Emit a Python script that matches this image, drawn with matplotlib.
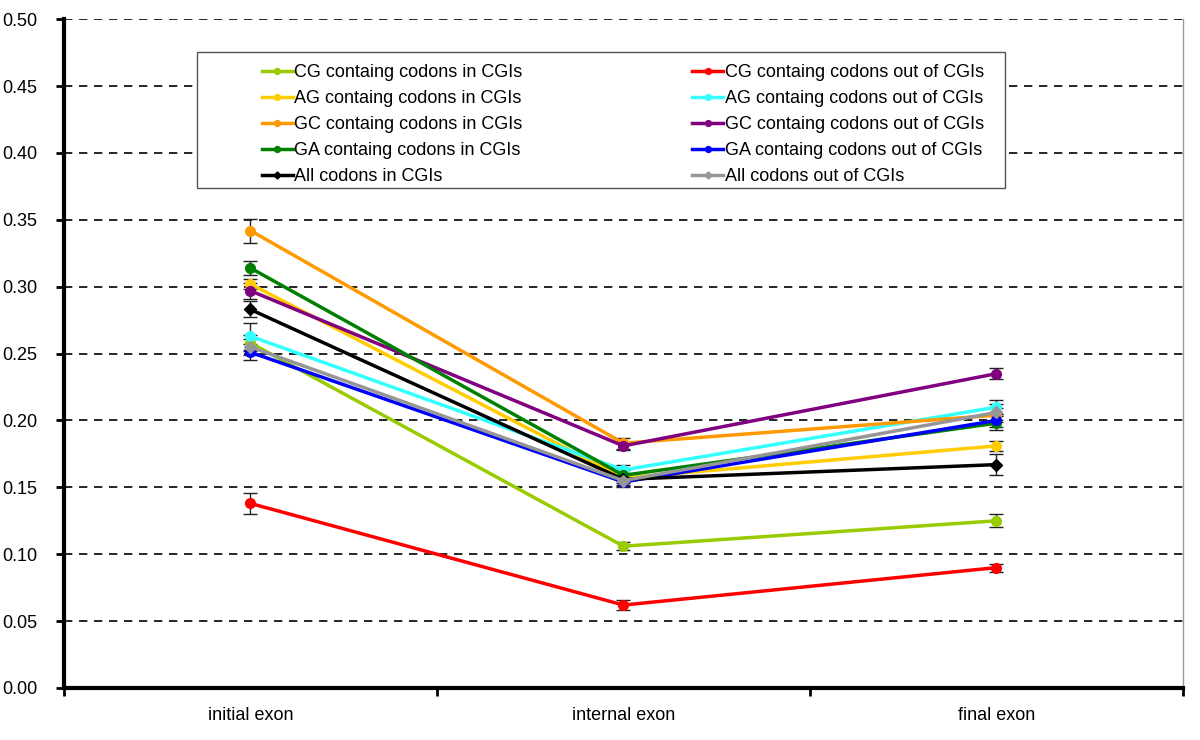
import numpy as np
import matplotlib.pyplot as plt
from matplotlib.patches import Rectangle

plt.rcParams['font.family'] = ['Liberation Sans', 'DejaVu Sans']

categories = ["initial exon", "internal exon", "final exon"]

labels = [
    "CG containg codons in CGIs", "CG containg codons out of CGIs",
    "AG containg codons in CGIs", "AG containg codons out of CGIs",
    "GC containg codons in CGIs", "GC containg codons out of CGIs",
    "GA containg codons in CGIs", "GA containg codons out of CGIs",
    "All codons in CGIs", "All codons out of CGIs",
]
colors = ["#99cc00", "#ff0000", "#ffcc00", "#33ffff", "#ff9900",
          "#800080", "#008000", "#0000ff", "#000000", "#969696"]
markers = ["o", "o", "o", "o", "o", "o", "o", "o", "D", "D"]

cg_in = [0.258, 0.106, 0.125]
cg_out = [0.138, 0.062, 0.090]
ag_in = [0.302, 0.157, 0.181]
ag_out = [0.263, 0.163, 0.210]
gc_in = [0.342, 0.183, 0.204]
gc_out = [0.297, 0.181, 0.235]
ga_in = [0.314, 0.159, 0.198]
ga_out = [0.251, 0.154, 0.200]
all_in = [0.283, 0.156, 0.167]
all_out = [0.255, 0.155, 0.206]

cg_in_err = [0.006, 0.003, 0.005]
cg_out_err = [0.008, 0.004, 0.003]
ag_in_err = [0.004, 0.004, 0.004]
ag_out_err = [0.010, 0.004, 0.005]
gc_in_err = [0.009, 0.004, 0.005]
gc_out_err = [0.006, 0.003, 0.004]
ga_in_err = [0.005, 0.004, 0.005]
ga_out_err = [0.006, 0.004, 0.005]
all_in_err = [0.006, 0.004, 0.008]
all_out_err = [0.006, 0.004, 0.006]

series = [cg_in, cg_out, ag_in, ag_out, gc_in, gc_out, ga_in, ga_out, all_in, all_out]
errors = [cg_in_err, cg_out_err, ag_in_err, ag_out_err, gc_in_err, gc_out_err,
          ga_in_err, ga_out_err, all_in_err, all_out_err]

fig = plt.figure(figsize=(12, 7.4), dpi=100)
ax = fig.add_axes([0.0533, 0.0703, 0.9325, 0.9037])

x = np.arange(len(categories))
handles = []
for vals, err, col, mk, lab in zip(series, errors, colors, markers, labels):
    ax.errorbar(x, vals, yerr=err, fmt="none", ecolor="#222222",
                elinewidth=1, capsize=5, capthick=1, zorder=2)
    h, = ax.plot(x, vals, color=col, marker=mk, markersize=7 if mk == "o" else 6,
                 linewidth=2.5, label=lab, zorder=3)
    handles.append(h)

ax.set_xlim(-0.5, 2.5)
ax.set_ylim(0, 0.5)
ax.set_yticks(np.arange(0, 0.501, 0.05))
ax.set_yticklabels([f"{v:.2f}" for v in np.arange(0, 0.501, 0.05)])
ax.yaxis.grid(True, linestyle=(0, (5, 4)), color="black", linewidth=1.2)
ax.set_axisbelow(True)

ax.set_xticks([-0.5, 0.5, 1.5, 2.5])
ax.set_xticklabels([])
ax.set_xticks(x, minor=True)
ax.set_xticklabels(categories, minor=True)
ax.tick_params(axis="x", which="minor", length=0, pad=14, labelsize=13)
ax.tick_params(axis="x", which="major", length=6, width=2, direction="out")
ax.tick_params(axis="y", length=6, width=2, direction="out", labelsize=13, pad=13)

ax.spines["left"].set_linewidth(3)
ax.spines["bottom"].set_linewidth(3)
ax.spines["top"].set_visible(False)
ax.spines["right"].set_color("#999999")
ax.spines["right"].set_linewidth(1)

# legend frame drawn separately, entries: in-CGI column then out-of-CGI column
frame = Rectangle((197 / 1200, 1 - 188 / 740), 808 / 1200, 136 / 740,
                  transform=fig.transFigure, facecolor="white",
                  edgecolor="#555555", linewidth=1, zorder=2.5)
ax.add_patch(frame)

order = [0, 2, 4, 6, 8, 1, 3, 5, 7, 9]
leg = ax.legend(handles=[handles[i] for i in order], ncol=2, loc="upper left",
                bbox_to_anchor=(262 / 1200, 1 - 64 / 740),
                bbox_transform=fig.transFigure, frameon=False,
                fontsize=13, handlelength=1.7, handletextpad=0.1,
                columnspacing=9.4, borderpad=0, borderaxespad=0,
                labelspacing=0.50, markerscale=0.6)
leg.set_zorder(5)

fig.savefig("out.png", dpi=100)
